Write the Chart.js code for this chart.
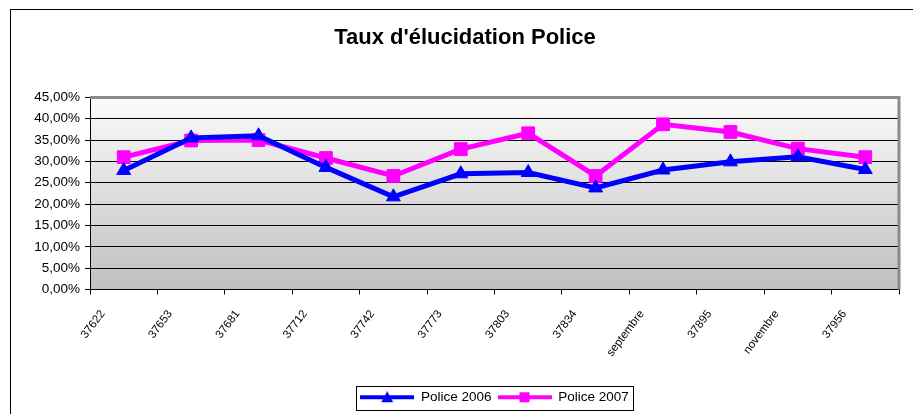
<!DOCTYPE html>
<html>
<head>
<meta charset="utf-8">
<script src="https://cdn.jsdelivr.net/npm/chart.js@4/dist/chart.umd.min.js"></script>
<style>
  html, body { margin: 0; padding: 0; background: #fff; overflow: hidden; }
  .cadre {
    position: absolute; left: 10px; top: 9px;
    width: 920px; height: 420px;
    border-left: 1px solid #000; border-top: 1px solid #000;
  }
  #chartPolice { display: block; }
</style>
</head>
<body>
<div class="cadre">
  <canvas id="chartPolice" width="908" height="404"></canvas>
</div>
<script>
// Mois (libellés tels qu'ils apparaissent dans Excel)
const mois = ['37622', '37653', '37681', '37712', '37742', '37773', '37803', '37834', 'septembre', '37895', 'novembre', '37956'];

// Taux d'élucidation en %
const police2006 = [27.9, 35.5, 36.0, 28.6, 21.7, 27.1, 27.4, 23.8, 28.0, 29.9, 31.1, 28.1];
const police2007 = [31.0, 34.9, 35.0, 30.8, 26.6, 32.9, 36.6, 26.6, 38.7, 36.9, 33.0, 31.0];

// Graduations de l'axe Y
const yMin = 0;
const yMax = 45;
const yPas = 5;

const police = 'Arial, "Liberation Sans", sans-serif';

// Petite image pour la légende : trait + marqueur
function symboleLegende(couleur, forme) {
    const c = document.createElement('canvas');
    c.width = 54;
    c.height = 12;
    const ctx = c.getContext('2d');
    ctx.strokeStyle = couleur;
    ctx.fillStyle = couleur;
    ctx.lineWidth = 4;
    ctx.beginPath();
    ctx.moveTo(0, 6);
    ctx.lineTo(54, 6);
    ctx.stroke();
    ctx.beginPath();
    if (forme === 'triangle') {
        ctx.moveTo(27, 0);
        ctx.lineTo(33, 11);
        ctx.lineTo(21, 11);
    } else {
        ctx.rect(22, 1, 10, 10);
    }
    ctx.closePath();
    ctx.fill();
    return c;
}

// Fond dégradé + bordure grise du cadre du graphique
const fondZone = {
    id: 'fondZone',
    beforeDraw(chart) {
        const { ctx, chartArea: a } = chart;
        const g = ctx.createLinearGradient(0, a.top, 0, a.bottom);
        g.addColorStop(0, '#fbfbfb');
        g.addColorStop(1, '#c0c0c0');
        ctx.save();
        ctx.fillStyle = g;
        ctx.fillRect(a.left, a.top, a.right - a.left, a.bottom - a.top);
        ctx.restore();
    },
    beforeDatasetsDraw(chart) {
        const { ctx, chartArea: a } = chart;
        ctx.save();
        ctx.strokeStyle = '#8a8a8a';
        ctx.lineWidth = 3;
        ctx.beginPath();
        ctx.moveTo(a.left, a.top);
        ctx.lineTo(a.right, a.top);
        ctx.lineTo(a.right, a.bottom);
        ctx.stroke();
        ctx.restore();
    },
    afterDraw(chart) {
        // cadre autour de la légende
        const boxes = chart.legend.legendHitBoxes;
        if (!boxes || !boxes.length) return;
        let l = Infinity, r = -Infinity, t = Infinity, b = -Infinity;
        boxes.forEach(h => {
            l = Math.min(l, h.left);
            r = Math.max(r, h.left + h.width);
            t = Math.min(t, h.top);
            b = Math.max(b, h.top + h.height);
        });
        const ctx = chart.ctx;
        ctx.save();
        ctx.strokeStyle = '#000';
        ctx.lineWidth = 1;
        ctx.strokeRect(Math.round(l - 4) + 0.5, Math.round(t - 5) + 0.5, Math.round(r - l + 8), Math.round(b - t + 10));
        ctx.restore();
    }
};

const config = {
    type: 'line',
    data: {
        labels: mois,
        datasets: [
            {
                label: 'Police 2006',
                data: police2006,
                borderColor: '#0000ff',
                backgroundColor: '#0000ff',
                borderWidth: 5,
                pointStyle: 'triangle',
                pointRadius: 8,
                pointBorderWidth: 1,
                tension: 0
            },
            {
                label: 'Police 2007',
                data: police2007,
                borderColor: '#ff00ff',
                backgroundColor: '#ff00ff',
                borderWidth: 5,
                pointStyle: 'rect',
                pointRadius: 9,
                pointBorderWidth: 1,
                tension: 0
            }
        ]
    },
    options: {
        responsive: false,
        animation: false,
        layout: { padding: { left: 20, right: 20, top: 0, bottom: 0 } },
        plugins: {
            title: {
                display: true,
                text: "Taux d'élucidation Police",
                color: '#000',
                font: { family: police, size: 22, weight: 'bold' },
                padding: { top: 15, bottom: 46 }
            },
            legend: {
                position: 'bottom',
                fullSize: false,
                labels: {
                    color: '#000',
                    font: { family: police, size: 13.5 },
                    usePointStyle: true,
                    pointStyleWidth: 54,
                    padding: 6,
                    generateLabels(chart) {
                        return chart.data.datasets.map((ds, i) => ({
                            text: ds.label,
                            pointStyle: symboleLegende(ds.borderColor, ds.pointStyle),
                            fillStyle: ds.borderColor,
                            strokeStyle: ds.borderColor,
                            lineWidth: 0,
                            fontColor: '#000',
                            datasetIndex: i
                        }));
                    }
                }
            },
            tooltip: { enabled: false }
        },
        scales: {
            x: {
                offset: true,
                grid: {
                    display: true,
                    offset: true,
                    drawOnChartArea: false,
                    drawTicks: true,
                    tickLength: 5,
                    color: '#000'
                },
                border: { color: '#000', width: 1 },
                ticks: {
                    color: '#000',
                    font: { family: police, size: 11.5 },
                    minRotation: 53,
                    maxRotation: 53,
                    autoSkip: false,
                    padding: 13,
                    labelOffset: -21
                },
                afterFit(scale) { scale.height = 95; }
            },
            y: {
                min: yMin,
                max: yMax,
                grid: {
                    color: '#000',
                    lineWidth: 1,
                    tickLength: 5,
                    tickColor: '#000'
                },
                border: { color: '#000', width: 1 },
                ticks: {
                    stepSize: yPas,
                    color: '#000',
                    padding: 5,
                    font: { family: police, size: 13.5 },
                    callback: v => v.toFixed(2).replace('.', ',') + '%'
                },
                afterFit(scale) { scale.width = 59; }
            }
        }
    },
    plugins: [fondZone]
};

const chartPolice = new Chart(document.getElementById('chartPolice'), config);
</script>
</body>
</html>
